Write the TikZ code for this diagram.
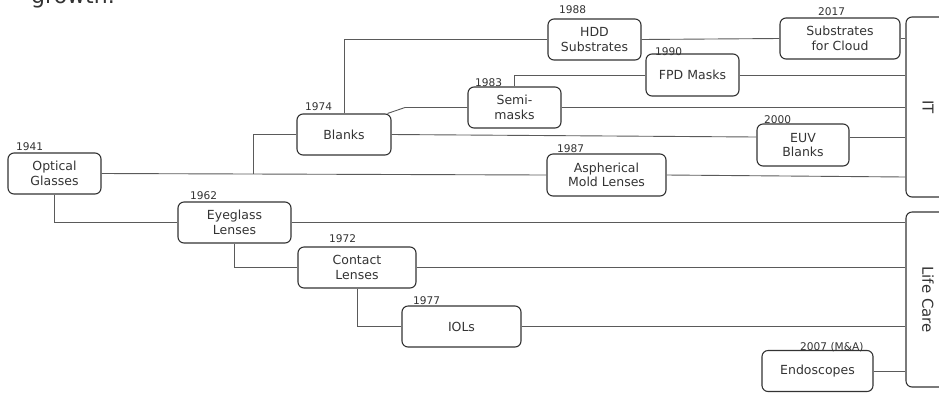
\documentclass[tikz,border=0pt]{standalone}
\usepackage{fontspec}
\setmainfont{DejaVu Sans}
\usepackage{graphicx}
\definecolor{boxc}{HTML}{333333}
\definecolor{linec}{HTML}{5A5A5A}
\definecolor{txtc}{HTML}{333333}
\begin{document}
\begin{tikzpicture}[x=1pt,y=-1pt,
  box/.style={draw=boxc, line width=1.1pt, rounded corners=6pt, align=center, text=txtc,
    font=\fontsize{12.5}{14.5}\selectfont, inner sep=0pt},
  side/.style={box, font=\fontsize{15}{18}\selectfont},
  yr/.style={anchor=base west, text=txtc, font=\fontsize{10.6}{12}\selectfont, inner sep=0pt},
  conn/.style={draw=linec, line width=0.9pt}]
\useasboundingbox (0,0) rectangle (939,392);

\node[anchor=base west, text=txtc, font=\fontsize{22}{26}\selectfont, inner sep=0pt] (title) at (31,3) {growth.};

% boxes
\node[box, minimum width=93pt, minimum height=41pt] (og) at (54.5,173.5) {Optical\\Glasses};
\node[box, minimum width=94pt, minimum height=41pt] (blanks) at (344,134.5) {Blanks};
\node[box, minimum width=93pt, minimum height=41pt] (semi) at (514.5,107.5) {Semi-\\masks};
\node[box, minimum width=93pt, minimum height=41pt] (hdd) at (594.5,39.5) {HDD\\Substrates};
\node[box, minimum width=120pt, minimum height=41pt] (sfc) at (840,38.5) {Substrates\\for Cloud};
\node[box, minimum width=93pt, minimum height=42pt] (fpd) at (692.5,75) {FPD Masks};
\node[box, minimum width=92pt, minimum height=42pt] (euv) at (803,145) {EUV\\Blanks};
\node[box, minimum width=119pt, minimum height=42pt] (asph) at (606.5,175) {Aspherical\\Mold Lenses};
\node[box, minimum width=113pt, minimum height=41pt] (eye) at (234.5,222.5) {Eyeglass\\Lenses};
\node[box, minimum width=118pt, minimum height=41pt] (contact) at (357,267.5) {Contact\\Lenses};
\node[box, minimum width=119pt, minimum height=41pt] (iol) at (461.5,326.5) {IOLs};
\node[box, minimum width=111pt, minimum height=41pt] (endo) at (817.5,371) {Endoscopes};
\node[side, minimum width=44pt, minimum height=180pt] (it) at (928,107) {\rotatebox{-90}{IT}};
\node[side, minimum width=44pt, minimum height=175pt] (lc) at (928,299.5) {\rotatebox{-90}{Life Care}};

% years
\node[yr] (y1941) at (16,150) {1941};
\node[yr] (y1974) at (305,110) {1974};
\node[yr] (y1962) at (190,199) {1962};
\node[yr] (y1972) at (329,242) {1972};
\node[yr] (y1977) at (413,304) {1977};
\node[yr] (y1983) at (475,86) {1983};
\node[yr] (y1988) at (559,13) {1988};
\node[yr] (y2017) at (818,15) {2017};
\node[yr] (y1990) at (655,55) {1990};
\node[yr] (y2000) at (764,123) {2000};
\node[yr] (y1987) at (557,152) {1987};
\node[yr] (y2007) at (800,350) {2007 (M\&A)};

% connectors
\coordinate (j1) at (253,174);
\coordinate (k1) at (405,107.5);
\draw[conn] (og.east) -- (asph.west);
\draw[conn] (j1) |- (blanks.west);
\draw[conn] (blanks.north) |- (hdd.west);
\draw[conn] ([xshift=-4pt]blanks.north east) -- (k1) -- (semi.west);
\draw[conn] (blanks.east) -- ([yshift=8pt]euv.west);
\draw[conn] (semi.north) |- (fpd.west);
\draw[conn] (semi.east) -- (semi.east -| it.west);
\draw[conn] (hdd.east) -- (sfc.west);
\draw[conn] (sfc.east) -- (sfc.east -| it.west);
\draw[conn] (fpd.east) -- (fpd.east -| it.west);
\draw[conn] ([yshift=8pt]euv.east) -- ([yshift=8pt]euv.east -| it.west);
\draw[conn] (asph.east) -- ([yshift=-2pt]asph.east -| it.west);
\draw[conn] (og.south) |- (eye.west);
\draw[conn] (eye.east) -- (eye.east -| lc.west);
\draw[conn] (eye.south) |- (contact.west);
\draw[conn] (contact.east) -- (contact.east -| lc.west);
\draw[conn] (contact.south) |- (iol.west);
\draw[conn] (iol.east) -- (iol.east -| lc.west);
\draw[conn] (endo.east) -- (endo.east -| lc.west);
\end{tikzpicture}
\end{document}
